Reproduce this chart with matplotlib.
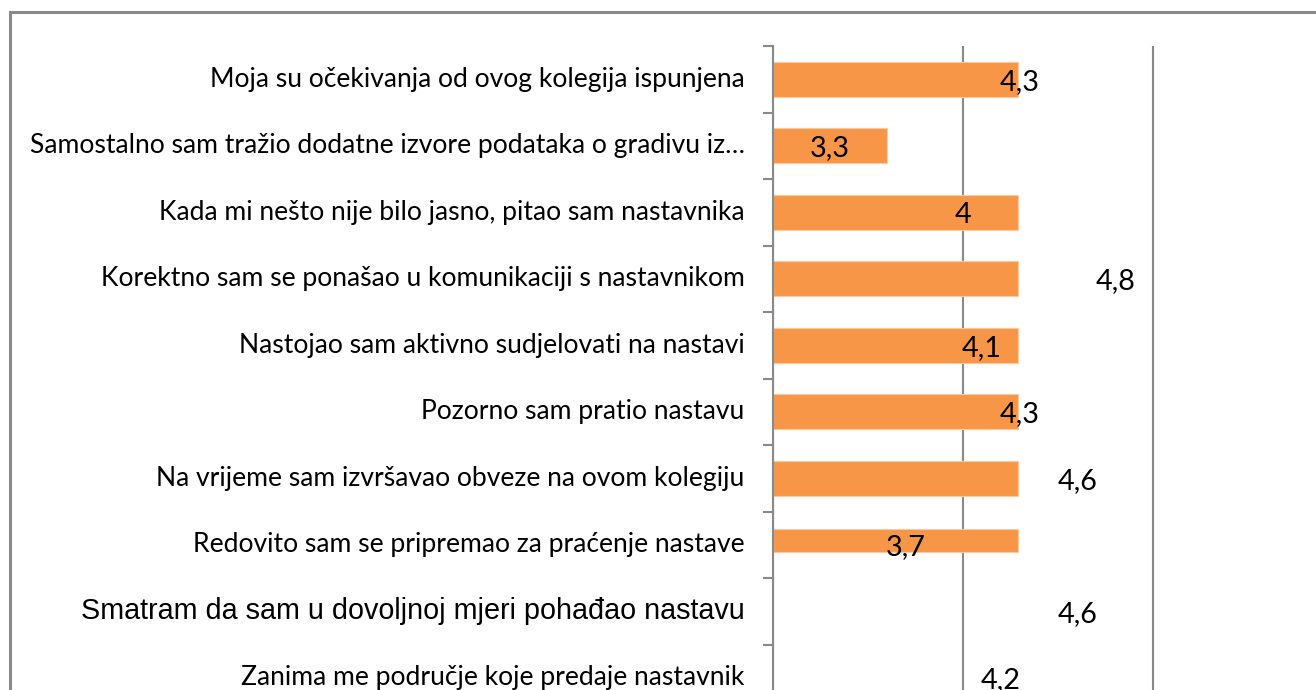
import matplotlib
matplotlib.use("Agg")
import matplotlib.pyplot as plt
from matplotlib.patches import Rectangle
import numpy as np

# ---- data (top to bottom) ----
categories = [
    "Moja su očekivanja od ovog kolegija ispunjena",
    "Samostalno sam tražio dodatne izvore podataka o gradivu iz…",
    "Kada mi nešto nije bilo jasno, pitao sam nastavnika",
    "Korektno sam se ponašao u komunikaciji s nastavnikom",
    "Nastojao sam aktivno sudjelovati na nastavi",
    "Pozorno sam pratio nastavu",
    "Na vrijeme sam izvršavao obveze na ovom kolegiju",
    "Redovito sam se pripremao za praćenje nastave",
    "Smatram da sam u dovoljnoj mjeri pohađao nastavu",
    "Zanima me područje koje predaje nastavnik",
]
values = [4.3, 3.3, 4.0, 4.8, 4.1, 4.3, 4.6, 3.7, 4.6, 4.2]
value_labels = ["4,3", "3,3", "4", "4,8", "4,1", "4,3", "4,6", "3,7", "4,6", "4,2"]
# bar lengths as they appear in the picture (bars are drawn truncated)
bar_ends = [4.29, 3.6, 4.29, 4.29, 4.29, 4.29, 4.29, 4.29, np.nan, np.nan]
axis_min = 3.0
x_ticks = [3, 4, 5]

# ---- styles ----
bar_heights = [0.52] * 7 + [0.34, 0.52, 0.52]
bar_shift = [0.0] * 7 + [-0.06, 0.0, 0.0]
arial_rows = {8}
BAR = "#F79646"
GRAY = "#898989"

W, H = 1316, 690
fig = plt.figure(figsize=(W / 100, H / 100), dpi=100)
renderer = fig.canvas.get_renderer()


def fit_size(s, family, target_px, base=20.0):
    t = fig.text(0, 0, s, fontsize=base, family=family)
    w = t.get_window_extent(renderer).width
    t.remove()
    return base * target_px / w


calib = ["Lato", "DejaVu Sans"]
arial = ["Liberation Sans", "DejaVu Sans"]
fs_cal = fit_size(categories[3], calib, 645)
fs_ar = fit_size(categories[8], arial, 663)
fs_val = fit_size("4,8", calib, 40)

left_px, top_px = 772.7, 46
row_px = 66.5
xmax = 5.5
px_per_unit = 190.3
ax_w = (xmax - axis_min) * px_per_unit
ax_h = row_px * len(categories)
ax = fig.add_axes([left_px / W, 1 - (top_px + ax_h) / H, ax_w / W, ax_h / H])

y = np.arange(len(categories))
ax.barh(y + np.array(bar_shift), np.array(bar_ends) - axis_min, left=axis_min,
        height=bar_heights, color=BAR, edgecolor="#FBC9A0", linewidth=0.8, zorder=2)

ax.set_xlim(axis_min, xmax)
ax.set_ylim(len(categories) - 0.5, -0.5)
ax.set_xticks(x_ticks)
ax.set_xticklabels([])
ax.tick_params(axis="x", length=0)
ax.grid(axis="x", color=GRAY, linewidth=1.5)
ax.set_axisbelow(True)

ax.set_yticks(y)
ax.set_yticklabels([])
ax.set_yticks(np.arange(len(categories) + 1) - 0.5, minor=True)
ax.tick_params(axis="y", which="major", length=0)
ax.tick_params(axis="y", which="minor", length=7.2, width=1.5, color=GRAY, direction="out")

for s in ["top", "right", "bottom"]:
    ax.spines[s].set_visible(False)
ax.spines["left"].set_color(GRAY)
ax.spines["left"].set_linewidth(1.5)

label_x = axis_min - 28 / px_per_unit
for i, c in enumerate(categories):
    if i in arial_rows:
        ax.text(label_x, i, c, ha="right", va="center", fontsize=fs_ar, family=arial)
    else:
        ax.text(label_x, i, c, ha="right", va="center", fontsize=fs_cal, family=calib)

for i, (v, lab) in enumerate(zip(values, value_labels)):
    ax.text(v, i + 0.04, lab, ha="center", va="center", fontsize=fs_val, family=calib,
            color="black", zorder=3)

fig.patches.append(Rectangle((9.5 / W, -0.1), 1.2, 1 - 11.5 / H + 0.1,
                             transform=fig.transFigure, fill=False,
                             edgecolor=GRAY, linewidth=2.2))

fig.savefig("out.png", dpi=100)
